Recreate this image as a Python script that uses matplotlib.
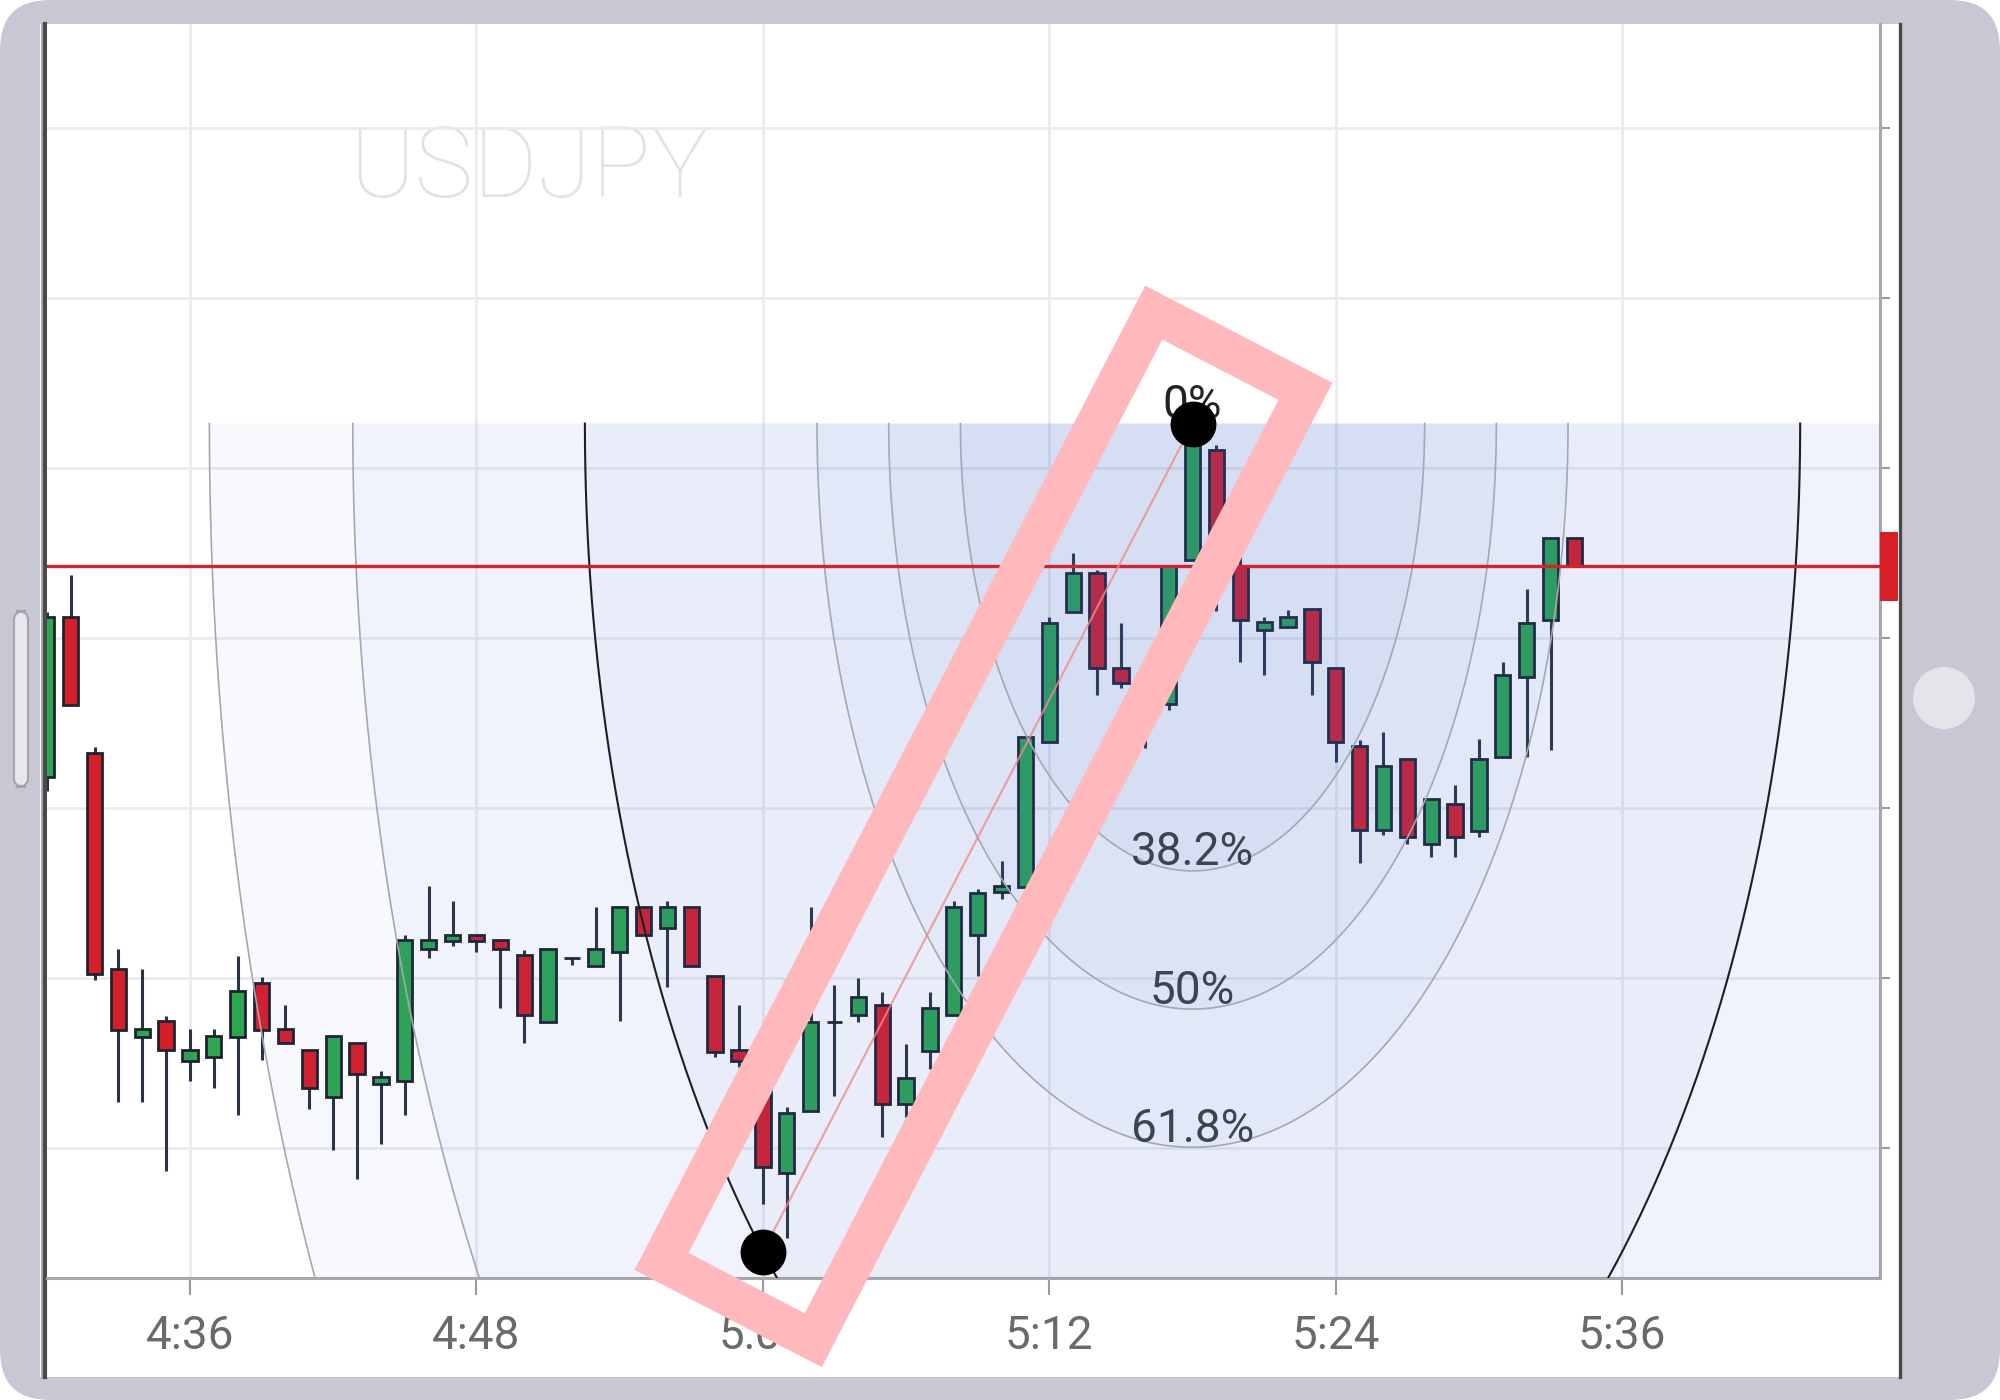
import numpy as np
import matplotlib.pyplot as plt
import matplotlib.transforms as mtransforms
from matplotlib.patches import FancyBboxPatch, Rectangle, Polygon, Ellipse
from matplotlib.lines import Line2D

plt.rcParams['font.family'] = ['Roboto', 'DejaVu Sans']

# one candle per minute, starting 4:30 (minutes since midnight)
start_minute = 270
opens = [109.9436, 109.9625, 109.9465, 109.9210, 109.9130, 109.9149, 109.9102, 109.9107,
         109.9131, 109.9194, 109.9140, 109.9115, 109.9060, 109.9124, 109.9075, 109.9079,
         109.9234, 109.9243, 109.9251, 109.9244, 109.9227, 109.9148, 109.9223, 109.9214,
         109.9231, 109.9283, 109.9259, 109.9283, 109.9202, 109.9115, 109.9068, 109.8970,
         109.9044, 109.9148, 109.9156, 109.9168, 109.9052, 109.9114, 109.9156, 109.9251,
         109.9301, 109.9307, 109.9478, 109.9630, 109.9676, 109.9565, 109.9547, 109.9522,
         109.9692, 109.9821, 109.9684, 109.9609, 109.9613, 109.9634, 109.9564, 109.9473,
         109.9374, 109.9457, 109.9358, 109.9404, 109.9373, 109.9460, 109.9554, 109.9621,
         109.9717]
highs = [109.9630, 109.9674, 109.9472, 109.9234, 109.9210, 109.9155, 109.9140, 109.9140,
         109.9226, 109.9201, 109.9168, 109.9115, 109.9132, 109.9124, 109.9090, 109.9250,
         109.9308, 109.9291, 109.9251, 109.9244, 109.9233, 109.9234, 109.9223, 109.9283,
         109.9283, 109.9283, 109.9291, 109.9283, 109.9202, 109.9168, 109.9082, 109.9048,
         109.9283, 109.9192, 109.9200, 109.9183, 109.9122, 109.9183, 109.9291, 109.9305,
         109.9337, 109.9483, 109.9624, 109.9700, 109.9680, 109.9618, 109.9555, 109.9684,
         109.9833, 109.9827, 109.9698, 109.9625, 109.9633, 109.9634, 109.9564, 109.9480,
         109.9489, 109.9457, 109.9411, 109.9427, 109.9481, 109.9572, 109.9658, 109.9717,
         109.9717]
lows = [109.9420, 109.9521, 109.9198, 109.9054, 109.9054, 109.8973, 109.9079, 109.9070,
        109.9039, 109.9103, 109.9124, 109.9046, 109.8997, 109.8964, 109.9005, 109.9039,
        109.9223, 109.9238, 109.9231, 109.9165, 109.9124, 109.9148, 109.9215, 109.9214,
        109.9149, 109.9250, 109.9189, 109.9214, 109.9107, 109.9095, 109.8934, 109.8894,
        109.9044, 109.9061, 109.9148, 109.9013, 109.9036, 109.9093, 109.9156, 109.9202,
        109.9293, 109.9307, 109.9478, 109.9630, 109.9533, 109.9541, 109.9470, 109.9515,
        109.9692, 109.9631, 109.9572, 109.9556, 109.9613, 109.9533, 109.9454, 109.9335,
        109.9368, 109.9358, 109.9342, 109.9342, 109.9366, 109.9460, 109.9460, 109.9468,
        109.9684]
closes = [109.9625, 109.9521, 109.9205, 109.9139, 109.9140, 109.9115, 109.9115, 109.9132,
          109.9185, 109.9139, 109.9124, 109.9070, 109.9132, 109.9087, 109.9083, 109.9244,
          109.9244, 109.9251, 109.9243, 109.9234, 109.9156, 109.9234, 109.9223, 109.9234,
          109.9283, 109.9250, 109.9283, 109.9214, 109.9113, 109.9102, 109.8978, 109.9041,
          109.9148, 109.9148, 109.9177, 109.9052, 109.9082, 109.9164, 109.9283, 109.9300,
          109.9308, 109.9483, 109.9618, 109.9676, 109.9564, 109.9547, 109.9530, 109.9684,
          109.9827, 109.9690, 109.9621, 109.9619, 109.9625, 109.9572, 109.9478, 109.9374,
          109.9449, 109.9366, 109.9411, 109.9366, 109.9457, 109.9556, 109.9618, 109.9717,
          109.9684]
minutes = np.arange(start_minute, start_minute + len(opens))

# fibonacci arcs anchors (time in minutes, price)
fib_low = (300, 109.8878)
fib_high = (318, 109.9852)
fib_levels = [0.382, 0.5, 0.618, 1.0, 1.382, 1.618]
fib_labels = ["38.2%", "50%", "61.8%", "100%", "138.2%", "161.8%"]

price_ticks = [109.90, 109.92, 109.94, 109.96, 109.98, 110.00, 110.02]
time_ticks = [276, 288, 300, 312, 324, 336]
symbol = "USDJPY"

W, H = 2000, 1400
fig = plt.figure(figsize=(20, 14), dpi=100)
fig.patch.set_facecolor('white')

def fx(px):
    return px / W

def fy(py):
    return 1 - py / H

# tablet frame
fig.patches.append(FancyBboxPatch((0, 0), 1, 1, boxstyle="round,pad=0,rounding_size=0.025",
                                  transform=fig.transFigure, facecolor='#c8c8d4', edgecolor='none',
                                  mutation_aspect=W / H, zorder=-10))
fig.patches.append(Rectangle((fx(40), fy(1377)), fx(1901) - fx(40), fy(24) - fy(1377),
                             transform=fig.transFigure, facecolor='white', edgecolor='none', zorder=-9))
fig.lines.append(Line2D([fx(41.5), fx(41.5)], [fy(24), fy(1377)], transform=fig.transFigure,
                        color='#a8a8b0', lw=2.2, zorder=-8))
fig.lines.append(Line2D([fx(45), fx(45)], [fy(24), fy(1377)], transform=fig.transFigure,
                        color='#4a4a4a', lw=3, zorder=-8))
fig.lines.append(Line2D([fx(1899.5), fx(1899.5)], [fy(24), fy(1377)], transform=fig.transFigure,
                        color='#4a4a4a', lw=2.4, zorder=-8))
fig.patches.append(FancyBboxPatch((fx(14), fy(787)), fx(14), fy(611) - fy(787),
                                  boxstyle="round,pad=0,rounding_size=0.006", transform=fig.transFigure,
                                  facecolor='#e8e8ec', edgecolor='#a4a4ac', lw=1.5, zorder=-8))
fig.patches.append(Ellipse((fx(1944), fy(698)), fx(62), 62 / H, transform=fig.transFigure,
                           facecolor='#e4e4ea', edgecolor='none', zorder=-8))

ax = fig.add_axes([fx(47), fy(1278), fx(1880) - fx(47), fy(24) - fy(1278)])
ax.set_facecolor('white')
ax.set_axisbelow(True)
ax.set_xlim(270.01, 346.80)
ax.set_ylim(109.8847, 110.0322)

# watermark
ax.text(0.165, 0.862, symbol, transform=ax.transAxes, fontsize=71, fontweight='light',
        color='#e2e2e2', ha='left', va='baseline', zorder=0)

# candles
up = np.array(closes) >= np.array(opens)
body_colors = np.where(up, '#2ea650', '#d51e2a')
ax.vlines(minutes, lows, highs, color='#2a3342', lw=2.2, zorder=2)
bottoms = np.minimum(opens, closes)
heights = np.abs(np.array(closes) - np.array(opens))
ax.bar(minutes, heights, width=0.64, bottom=bottoms, color=body_colors,
       edgecolor='#1c2430', linewidth=2.0, zorder=2.1)

# fibonacci arcs
cx, cy = fib_high
ra = np.sqrt(2) * (fib_high[0] - fib_low[0])
rb = np.sqrt(2) * (fib_high[1] - fib_low[1])
theta = np.linspace(np.pi, 2 * np.pi, 500)
for lev, lab in zip(fib_levels, fib_labels):
    xs = cx + lev * ra * np.cos(theta)
    ys = cy + lev * rb * np.sin(theta)
    ax.fill(xs, ys, color=(0.27, 0.43, 0.84), alpha=0.04, lw=0, zorder=3)
    if lev == 1.0:
        ax.plot(xs, ys, color='#1e1e24', lw=1.5, zorder=3.5)
    else:
        ax.plot(xs, ys, color='#a4a8b2', lw=1.2, zorder=3.5)
    ax.annotate(lab, (cx, cy - lev * rb), xytext=(0, 4), textcoords='offset points',
                ha='center', va='baseline', fontsize=33, color='#3c4452', zorder=3.8,
                annotation_clip=True)
ax.annotate("0%", (cx, cy), xytext=(0, 4), textcoords='offset points',
            ha='center', va='baseline', fontsize=33, color='#222222', zorder=3.8)

# last price line + label box
last = closes[-1]
ax.axhline(last, color='#d42330', lw=2.4, zorder=3.6)
blend = mtransforms.blended_transform_factory(ax.transAxes, ax.transData)
ax.add_patch(Rectangle((1.0, last - 0.0041), 18 / 1833, 0.0082, transform=blend,
                       facecolor='#d61f26', edgecolor='none', clip_on=False, zorder=5))

# trend line between anchors
ax.plot([fib_low[0], fib_high[0]], [fib_low[1], fib_high[1]], color='#f08a8a', lw=1.5,
        alpha=0.8, zorder=3.7)

# highlight box around the swing
p0 = ax.transData.transform(fib_low)
p1 = ax.transData.transform(fib_high)
d = p1 - p0
length = np.hypot(*d)
u = d / length
n = np.array([-u[1], u[0]])
center = (p0 + p1) / 2 + 12.6 * u
hl = length / 2 + 68
hw = 85.5
corners = [center - hl * u - hw * n, center + hl * u - hw * n,
           center + hl * u + hw * n, center - hl * u + hw * n]
corners = ax.transData.inverted().transform(np.array(corners))
ax.add_patch(Polygon(corners, closed=True, fill=False, edgecolor='#ffb9bc', lw=28.8,
                     joinstyle='miter', clip_on=False, zorder=4))

# anchor dots
ax.plot([fib_low[0], fib_high[0]], [fib_low[1], fib_high[1]], 'o', color='black',
        ms=32, zorder=5)

# axes styling
for s in ['top', 'left']:
    ax.spines[s].set_visible(False)
for s in ['bottom', 'right']:
    ax.spines[s].set_color('#a8a8a8')
    ax.spines[s].set_linewidth(2.2)
ax.set_xticks(time_ticks)
ax.set_xticklabels([f"{m // 60}:{m % 60:02d}" for m in time_ticks])
ax.set_yticks(price_ticks)
ax.yaxis.tick_right()
ax.tick_params(axis='y', which='both', labelright=False, length=7, width=1.5, color='#9a9a9a')
ax.tick_params(axis='x', length=12, width=1.5, color='#9a9a9a', labelsize=33,
               labelcolor='#6a6a6a', pad=14)
ax.grid(True, color='#ebebef', lw=2)

fig.savefig('out.png', dpi=100)
